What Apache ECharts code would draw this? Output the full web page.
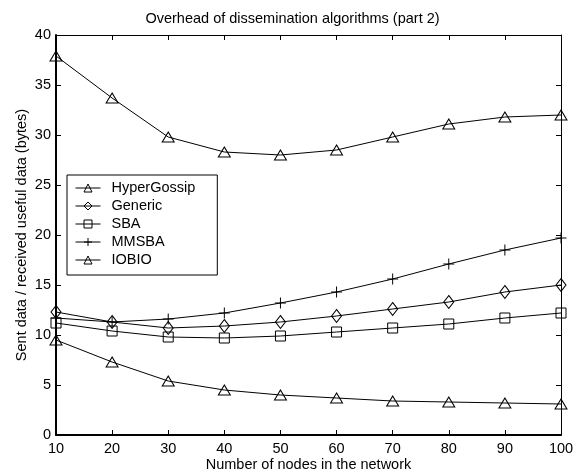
<!DOCTYPE html>
<html>
<head>
<meta charset="utf-8">
<script src="https://cdn.jsdelivr.net/npm/echarts@6/dist/echarts.min.js"></script>
<style>
html,body{margin:0;padding:0;background:#fff;}
#chart{width:585px;height:475px;}
</style>
</head>
<body>
<div id="chart"></div>
<script>
var nodes = [10, 20, 30, 40, 50, 60, 70, 80, 90, 100];
var hyperGossip = [37.9, 33.7, 29.8, 28.3, 28.0, 28.5, 29.8, 31.1, 31.8, 32.0];
var generic = [12.3, 11.3, 10.7, 10.9, 11.3, 11.9, 12.6, 13.3, 14.3, 15.0];
var sba = [11.2, 10.4, 9.8, 9.7, 9.9, 10.3, 10.7, 11.1, 11.7, 12.2];
var mmsba = [11.7, 11.3, 11.6, 12.2, 13.2, 14.3, 15.6, 17.1, 18.5, 19.7];
var iobio = [9.5, 7.3, 5.4, 4.5, 4.0, 3.7, 3.4, 3.3, 3.2, 3.1];
var seriesNames = ['HyperGossip', 'Generic', 'SBA', 'MMSBA', 'IOBIO'];
var titleText = 'Overhead of dissemination algorithms (part 2)';
var xName = 'Number of nodes in the network';
var yName = 'Sent data / received useful data (bytes)';

var FONT = '"Liberation Sans", Arial, sans-serif';
var FS = 14.5;

function pairs(vals) { return nodes.map(function (x, i) { return [x, vals[i]]; }); }

function mkSeries(name, vals, symbol, size) {
  return {
    name: name, type: 'line', data: pairs(vals),
    symbol: symbol, symbolSize: size, showAllSymbol: true,
    lineStyle: { color: '#000', width: 1 },
    itemStyle: { color: 'rgba(255,255,255,0)', borderColor: '#000', borderWidth: 1 },
    emphasis: { disabled: true },
    animation: false
  };
}

var plus = 'path://M0,5L10,5M5,0L5,10';

var chart = echarts.init(document.getElementById('chart'), null, { renderer: 'canvas' });
chart.setOption({
  backgroundColor: '#fff',
  animation: false,
  textStyle: { fontFamily: FONT },
  title: {
    text: titleText, left: 'center', top: 6,
    textStyle: { fontFamily: FONT, fontSize: FS, fontWeight: 'normal', color: '#000' }
  },
  grid: { left: 56, right: 24, top: 35, bottom: 40, show: false, containLabel: false, outerBoundsMode: 'none' },
  legend: {
    data: seriesNames, orient: 'vertical', left: 67, top: 175,
    backgroundColor: '#fff', borderColor: '#000', borderWidth: 1,
    padding: [5, 22, 7, 8], itemGap: 2, itemWidth: 25, itemHeight: 10,
    itemStyle: { color: 'rgba(255,255,255,0)', borderColor: '#000', borderWidth: 1 },
    lineStyle: { color: '#000', width: 1 },
    textStyle: { fontFamily: FONT, fontSize: FS, color: '#000', lineHeight: 16, padding: [0, 0, 0, 6] }
  },
  xAxis: [{
    type: 'value', min: 10, max: 100, interval: 10,
    name: xName, nameLocation: 'middle', nameGap: 22, nameMoveOverlap: false,
    nameTextStyle: { fontFamily: FONT, fontSize: FS, color: '#000' },
    axisLine: { show: true, onZero: false, lineStyle: { color: '#000', width: 2 } },
    axisTick: { show: true, inside: true, length: 5, lineStyle: { color: '#000' } },
    axisLabel: { fontFamily: FONT, fontSize: FS, color: '#000', margin: 6 },
    splitLine: { show: false }
  }, {
    type: 'value', min: 10, max: 100, interval: 10, position: 'top',
    axisLine: { show: true, onZero: false, lineStyle: { color: '#000', width: 1 } },
    axisTick: { show: true, inside: true, length: 5, lineStyle: { color: '#000' } },
    axisLabel: { show: false }, splitLine: { show: false }
  }],
  yAxis: [{
    type: 'value', min: 0, max: 40, interval: 5,
    name: yName, nameLocation: 'middle', nameGap: 27, nameMoveOverlap: false,
    nameTextStyle: { fontFamily: FONT, fontSize: FS, color: '#000' },
    axisLine: { show: true, onZero: false, lineStyle: { color: '#000', width: 2 } },
    axisTick: { show: true, inside: true, length: 5, lineStyle: { color: '#000' } },
    axisLabel: { fontFamily: FONT, fontSize: FS, color: '#000', margin: 5 },
    splitLine: { show: false }
  }, {
    type: 'value', min: 0, max: 40, interval: 5, position: 'right',
    axisLine: { show: true, onZero: false, lineStyle: { color: '#000', width: 1 } },
    axisTick: { show: true, inside: true, length: 5, lineStyle: { color: '#000' } },
    axisLabel: { show: false }, splitLine: { show: false }
  }],
  series: [
    mkSeries('HyperGossip', hyperGossip, 'triangle', [12, 10]),
    mkSeries('Generic', generic, 'diamond', [10, 13]),
    mkSeries('SBA', sba, 'rect', [10, 10]),
    mkSeries('MMSBA', mmsba, plus, [11, 11]),
    mkSeries('IOBIO', iobio, 'triangle', [12, 10])
  ]
});
</script>
</body>
</html>
